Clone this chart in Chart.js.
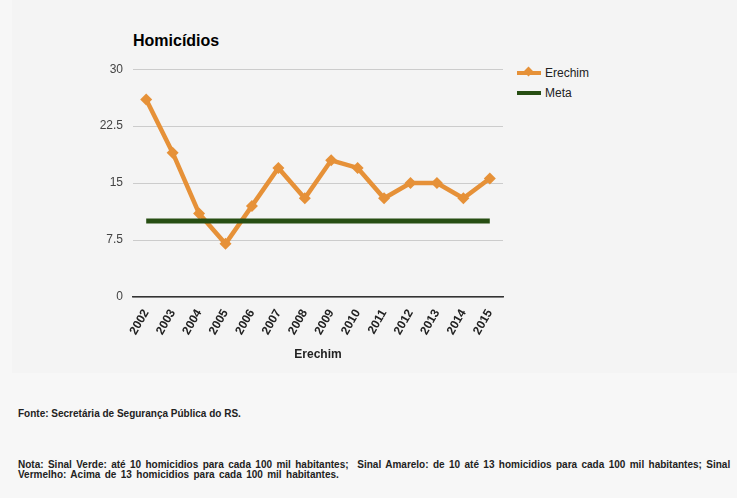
<!DOCTYPE html>
<html>
<head>
<meta charset="utf-8">
<script src="https://cdn.jsdelivr.net/npm/chart.js@4.4.0/dist/chart.umd.min.js"></script>
<style>
  body { margin: 0; background: #f7f7f7; font-family: Arial, "Liberation Sans", sans-serif; }
  #painel { position: absolute; left: 12px; top: 0; width: 725px; height: 373px; background: #f4f4f4; }
  #titulo { position: absolute; left: 133px; top: 32px; font-size: 16px; font-weight: bold; color: #000; }
  #grafico { position: absolute; left: 90px; top: 52px; width: 421px; height: 314px; }
  .leg { position: absolute; left: 517px; font-size: 12px; color: #222; height: 14px; line-height: 14px; }
  .leg .sim { position: absolute; left: 0; top: 5px; width: 24px; height: 4px; }
  .leg .txt { position: absolute; left: 28px; top: 0; white-space: nowrap; }
  .losango { position: absolute; left: 8px; top: -3px; width: 7px; height: 7px; transform: rotate(45deg); background: #e69138; }
  .rodape { position: absolute; left: 18px; font-family: "Liberation Sans Narrow", "Liberation Sans", sans-serif; font-size: 10px; font-weight: bold; color: #222; line-height: 10px; }
</style>
</head>
<body>
<div id="painel"></div>
<div id="titulo">Homicídios</div>
<canvas id="grafico" width="421" height="314"></canvas>
<div class="leg" style="top:66px"><div class="sim" style="background:#e69138"><div class="losango"></div></div><span class="txt">Erechim</span></div>
<div class="leg" style="top:86px"><div class="sim" style="background:#274e13"></div><span class="txt">Meta</span></div>
<div class="rodape" style="top:409px">Fonte: Secretária de Segurança Pública do RS.</div>
<div class="rodape" style="top:460px; word-spacing: 1.6px">Nota: Sinal Verde: até 10 homicidios para cada 100 mil habitantes;&nbsp; Sinal Amarelo: de 10 até 13 homicidios para cada 100 mil habitantes; Sinal<br>Vermelho: Acima de 13 homicidios para cada 100 mil habitantes.</div>
<script>
// anos e valores
const anos = ['2002', '2003', '2004', '2005', '2006', '2007', '2008', '2009', '2010', '2011', '2012', '2013', '2014', '2015'];
const erechim = [26, 19, 11, 7, 12, 17, 13, 18, 17, 13, 15, 15, 13, 15.6];
const meta = [10, 10, 10, 10, 10, 10, 10, 10, 10, 10, 10, 10, 10, 10];
const ticksY = [0, 7.5, 15, 22.5, 30];

const ctx = document.getElementById('grafico').getContext('2d');
new Chart(ctx, {
    type: 'line',
    data: {
        labels: anos,
        datasets: [{
            label: 'Erechim',
            data: erechim,
            borderColor: '#e69138',
            backgroundColor: '#e69138',
            borderWidth: 4.5,
            pointStyle: 'rectRot',
            pointRadius: 6,
            pointBorderWidth: 0,
            tension: 0,
            order: 1
        }, {
            label: 'Meta',
            data: meta,
            borderColor: '#274e13',
            backgroundColor: '#274e13',
            borderWidth: 5,
            pointRadius: 0,
            tension: 0,
            order: 0
        }]
    },
    options: {
        responsive: false,
        animation: false,
        layout: { padding: { top: 8, right: 8, left: 0, bottom: 0 } },
        plugins: { legend: { display: false }, tooltip: { enabled: false } },
        scales: {
            x: {
                offset: true,
                grid: { display: false },
                border: { display: true, color: '#333', width: 1.5 },
                ticks: {
                    minRotation: 60, maxRotation: 60, padding: 2,
                    color: '#222', font: { family: 'Arial', size: 12, weight: 'bold' }
                },
                title: { display: true, text: 'Erechim', color: '#222', padding: { top: 4 }, font: { family: 'Arial', size: 12, weight: 'bold' } },
                afterFit: (s) => { s.height = 69; }
            },
            y: {
                min: 0, max: 30,
                afterBuildTicks: (s) => { s.ticks = ticksY.map(v => ({ value: v })); },
                grid: { color: '#cccccc', drawTicks: false },
                border: { display: false },
                ticks: { padding: 10, color: '#444', font: { family: 'Arial', size: 12 } },
                afterFit: (s) => { s.width = 43; }
            }
        }
    }
});
</script>
</body>
</html>
